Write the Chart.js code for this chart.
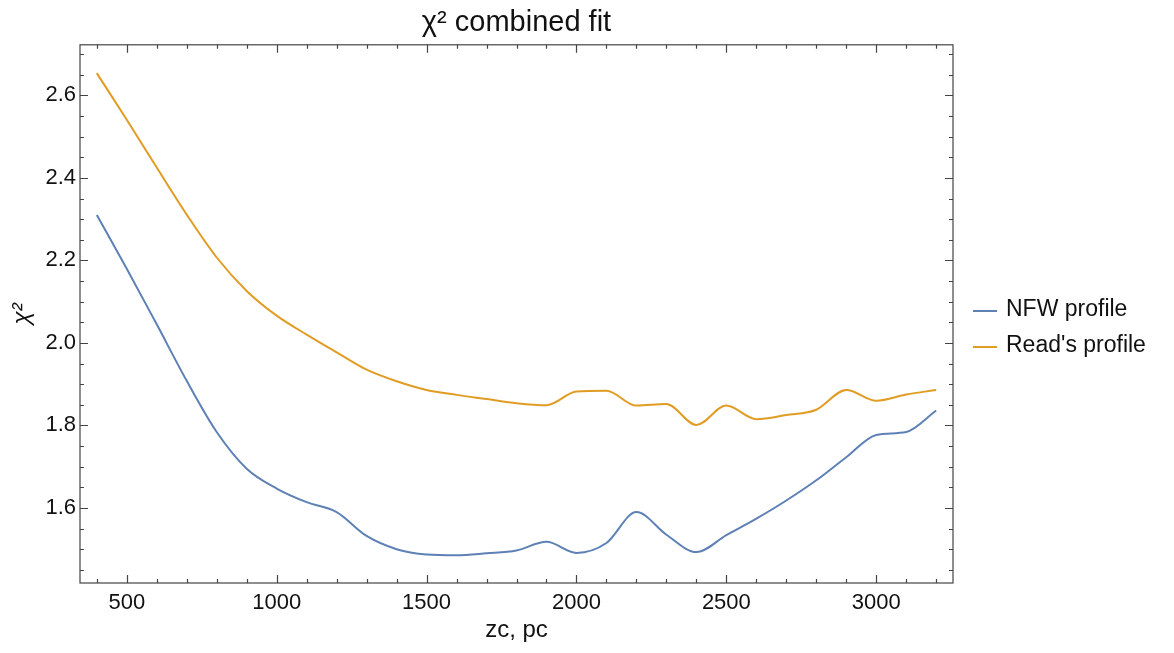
<!DOCTYPE html>
<html>
<head>
<meta charset="utf-8">
<script src="https://cdn.jsdelivr.net/npm/chart.js@4"></script>
<style>
  html, body { margin: 0; padding: 0; background: #fff; }
  #wrap { width: 1174px; height: 653px; position: relative; }
</style>
</head>
<body>
<div id="wrap"><canvas id="chart"></canvas></div>
<script>
  // zc values (pc)
  const zc = [400, 500, 600, 700, 800, 900, 1000, 1100, 1200, 1300, 1400, 1500, 1600, 1700, 1800,
    1900, 2000, 2100, 2200, 2300, 2400, 2500, 2600, 2700, 2800, 2900, 3000, 3100, 3200];

  // chi^2 for the two halo profiles
  const nfwChi2 = [2.310, 2.180, 2.045, 1.908, 1.784, 1.695, 1.647, 1.614, 1.590, 1.532, 1.500,
    1.487, 1.485, 1.490, 1.497, 1.518, 1.491, 1.515, 1.590, 1.535, 1.493, 1.534, 1.574, 1.618,
    1.667, 1.723, 1.777, 1.784, 1.836];
  const readChi2 = [2.654, 2.541, 2.425, 2.311, 2.207, 2.126, 2.066, 2.020, 1.977, 1.935, 1.907,
    1.886, 1.874, 1.864, 1.854, 1.849, 1.882, 1.884, 1.848, 1.852, 1.801, 1.848, 1.815, 1.825,
    1.838, 1.886, 1.860, 1.875, 1.886];

  const seriesLabels = ["NFW profile", "Read's profile"];

  // labelled ticks
  const xTicks = [500, 1000, 1500, 2000, 2500, 3000];
  const yTicks = [1.6, 1.8, 2.0, 2.2, 2.4, 2.6];

  const FONT = "'Liberation Sans', Arial, sans-serif";
  const FRAME = "#444";

  // Frame with inward ticks on all four sides (Mathematica style)
  const framePlugin = {
    id: "frame",
    afterDraw(chart) {
      const { ctx, chartArea: a, scales } = chart;
      ctx.save();
      ctx.strokeStyle = FRAME;
      ctx.lineWidth = 1.2;
      ctx.strokeRect(a.left, a.top, a.right - a.left, a.bottom - a.top);
      ctx.beginPath();
      for (let v = 400; v <= 3200; v += 100) {
        const x = Math.round(scales.x.getPixelForValue(v)) + 0.5;
        const len = v % 500 === 0 ? 8 : 4;
        ctx.moveTo(x, a.bottom); ctx.lineTo(x, a.bottom - len);
        ctx.moveTo(x, a.top); ctx.lineTo(x, a.top + len);
      }
      for (let i = 29; i <= 54; i++) {
        const v = i * 0.05;
        const y = Math.round(scales.y.getPixelForValue(v)) + 0.5;
        const len = i % 4 === 0 ? 8 : 4;
        ctx.moveTo(a.left, y); ctx.lineTo(a.left + len, y);
        ctx.moveTo(a.right, y); ctx.lineTo(a.right - len, y);
      }
      ctx.stroke();
      ctx.restore();
    }
  };

  // Legend to the right of the frame
  const legendPlugin = {
    id: "sideLegend",
    afterDraw(chart) {
      const { ctx, chartArea: a } = chart;
      ctx.save();
      ctx.font = "23px " + FONT;
      ctx.textBaseline = "middle";
      chart.data.datasets.forEach((ds, i) => {
        const y = 310 + i * 36;
        const x0 = a.right + 20;
        ctx.strokeStyle = ds.borderColor;
        ctx.lineWidth = 2;
        ctx.beginPath();
        ctx.moveTo(x0, y + 1); ctx.lineTo(x0 + 24, y + 1);
        ctx.stroke();
        ctx.fillStyle = "#111";
        ctx.fillText(ds.label, x0 + 33, y);
      });
      ctx.restore();
    }
  };

  new Chart(document.getElementById("chart"), {
    type: "line",
    data: {
      datasets: [
        {
          label: seriesLabels[0],
          data: zc.map((x, i) => ({ x, y: nfwChi2[i] })),
          borderColor: "#5E81B5",
          borderWidth: 2,
          pointRadius: 0,
          cubicInterpolationMode: "monotone",
          fill: false
        },
        {
          label: seriesLabels[1],
          data: zc.map((x, i) => ({ x, y: readChi2[i] })),
          borderColor: "#E19C24",
          borderWidth: 2,
          pointRadius: 0,
          cubicInterpolationMode: "monotone",
          fill: false
        }
      ]
    },
    options: {
      responsive: true,
      maintainAspectRatio: false,
      animation: false,
      events: [],
      layout: { padding: { left: 0, right: 221, top: 0, bottom: 0 } },
      plugins: {
        legend: { display: false },
        tooltip: { enabled: false },
        title: {
          display: true,
          fullSize: false,
          text: "\u03c7\u00b2 combined fit",
          color: "#111",
          font: { family: FONT, size: 29, weight: "normal", lineHeight: 1.2 },
          padding: { top: 6, bottom: 4 }
        }
      },
      scales: {
        x: {
          type: "linear",
          min: 344,
          max: 3256,
          grid: { display: false, drawTicks: false },
          border: { display: false },
          afterBuildTicks: (scale) => { scale.ticks = xTicks.map((v) => ({ value: v })); },
          afterFit: (scale) => { scale.height = 70; },
          ticks: {
            color: "#111",
            padding: 7,
            maxRotation: 0,
            font: { family: FONT, size: 22 },
            callback: (v) => String(v)
          },
          title: {
            display: true,
            text: "zc, pc",
            color: "#111",
            font: { family: FONT, size: 24 },
            padding: { top: 0, bottom: 8 }
          }
        },
        y: {
          min: 1.418,
          max: 2.7226,
          grid: { display: false, drawTicks: false },
          border: { display: false },
          afterBuildTicks: (scale) => { scale.ticks = yTicks.map((v) => ({ value: v })); },
          afterFit: (scale) => { scale.width = 80; },
          ticks: {
            color: "#111",
            padding: 4,
            font: { family: FONT, size: 22 },
            callback: (v) => Number(v).toFixed(1)
          },
          title: {
            display: true,
            text: "\u03c7\u00b2",
            color: "#111",
            font: { family: FONT, size: 24, style: "italic" },
            padding: { top: 8, bottom: 0 }
          }
        }
      }
    },
    plugins: [framePlugin, legendPlugin]
  });
</script>
</body>
</html>
